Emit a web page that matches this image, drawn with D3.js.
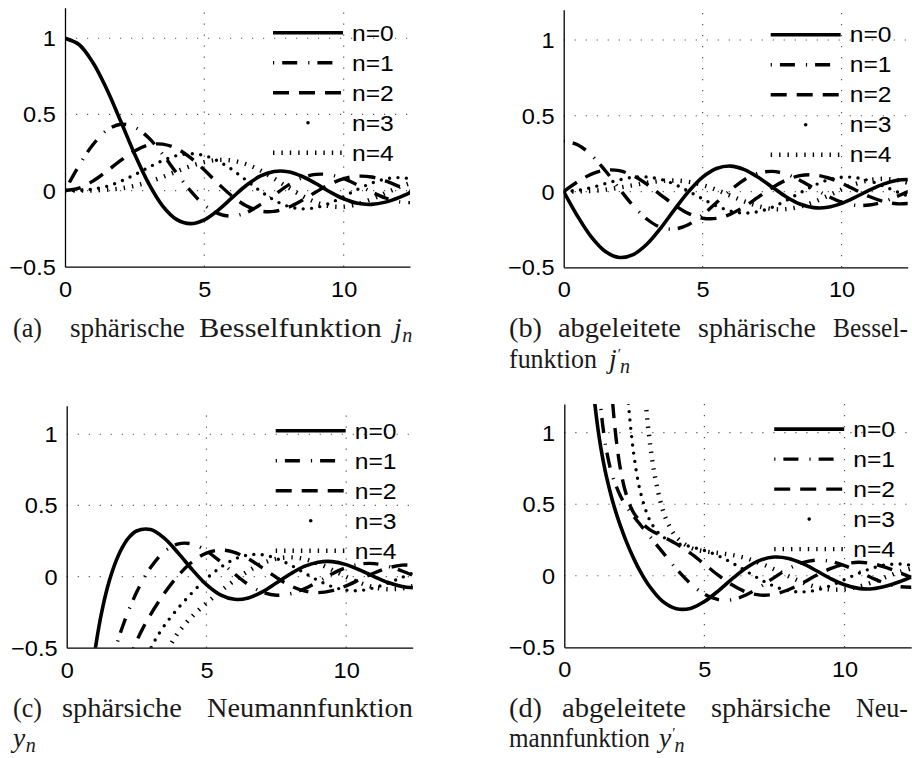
<!DOCTYPE html>
<html>
<head>
<meta charset="utf-8">
<script src="https://cdn.jsdelivr.net/npm/d3@7"></script>
<style>
  body { margin: 0; background: #fff; }
</style>
</head>
<body>
<div id="my_dataviz"></div>
<script>
// sample positions for panels (a) and (b)
const xGrid = [0, 0.5, 1, 1.5, 2, 2.5, 3, 3.5, 4, 4.5, 5, 5.5, 6, 6.5, 7, 7.5, 8, 8.5, 9, 9.5, 10, 10.5, 11, 11.5, 12, 12.5];

// (a) spherical Bessel functions j_n
const j0 = [1, 0.959, 0.841, 0.665, 0.455, 0.239, 0.047, -0.100, -0.189, -0.217, -0.192, -0.128, -0.047, 0.033, 0.094, 0.125, 0.124, 0.094, 0.046, -0.008, -0.054, -0.084, -0.091, -0.076, -0.045, -0.005];
const j1 = [0, 0.163, 0.301, 0.396, 0.435, 0.416, 0.346, 0.239, 0.116, -0.001, -0.095, -0.152, -0.168, -0.145, -0.094, -0.030, 0.034, 0.082, 0.106, 0.104, 0.078, 0.037, -0.009, -0.049, -0.074, -0.080];
const j2 = [0, 0.016, 0.062, 0.127, 0.198, 0.260, 0.299, 0.305, 0.276, 0.216, 0.135, 0.045, -0.037, -0.100, -0.134, -0.137, -0.111, -0.065, -0.010, 0.041, 0.078, 0.094, 0.089, 0.063, 0.026, -0.014];
const j3 = [0, 0.001, 0.009, 0.028, 0.061, 0.104, 0.152, 0.197, 0.229, 0.242, 0.230, 0.193, 0.137, 0.068, -0.002, -0.062, -0.103, -0.120, -0.112, -0.083, -0.039, 0.008, 0.049, 0.076, 0.085, 0.075];
const j4 = [0, 0.000, 0.001, 0.005, 0.014, 0.031, 0.056, 0.089, 0.125, 0.160, 0.187, 0.201, 0.197, 0.173, 0.133, 0.079, 0.021, -0.034, -0.077, -0.102, -0.106, -0.089, -0.057, -0.017, 0.023, 0.056];

// (b) derivatives j_n'
const dj0 = [0, -0.163, -0.301, -0.396, -0.435, -0.416, -0.346, -0.239, -0.116, 0.001, 0.095, 0.152, 0.168, 0.145, 0.094, 0.030, -0.034, -0.082, -0.106, -0.104, -0.078, -0.037, 0.009, 0.049, 0.074, 0.080];
const dj1 = [0.333, 0.309, 0.239, 0.137, 0.019, -0.094, -0.183, -0.237, -0.247, -0.217, -0.154, -0.073, 0.009, 0.078, 0.121, 0.133, 0.115, 0.075, 0.022, -0.030, -0.070, -0.091, -0.089, -0.068, -0.032, 0.008];
const dj2 = [0, 0.064, 0.115, 0.141, 0.138, 0.104, 0.047, -0.023, -0.091, -0.146, -0.176, -0.177, -0.149, -0.099, -0.037, 0.025, 0.075, 0.105, 0.110, 0.091, 0.055, 0.010, -0.033, -0.065, -0.081, -0.077];
const dj3 = [0, 0.007, 0.026, 0.052, 0.077, 0.094, 0.096, 0.080, 0.047, 0.001, -0.049, -0.095, -0.128, -0.142, -0.133, -0.104, -0.060, -0.009, 0.039, 0.076, 0.094, 0.092, 0.071, 0.037, -0.002, -0.038];
const dj4 = [0, 0.001, 0.004, 0.012, 0.026, 0.042, 0.058, 0.070, 0.073, 0.064, 0.043, 0.011, -0.027, -0.065, -0.096, -0.115, -0.116, -0.100, -0.069, -0.029, 0.013, 0.050, 0.075, 0.084, 0.075, 0.052];

// (c) spherical Neumann functions y_n as [x, value] (they start far below the plot)
const ny0 = [[0.9, -0.691], [1, -0.540], [1.1, -0.412], [1.2, -0.302], [1.3, -0.206], [1.4, -0.121], [1.5, -0.047], [1.6, 0.018], [1.8, 0.126], [2, 0.208], [2.2, 0.268], [2.5, 0.320], [3, 0.330], [3.5, 0.268], [4, 0.163], [4.5, 0.047], [5, -0.057], [5.5, -0.129], [6, -0.160], [6.5, -0.150], [7, -0.108], [7.5, -0.046], [8, 0.018], [8.5, 0.071], [9, 0.101], [9.5, 0.105], [10, 0.084], [10.5, 0.045], [11, 0.000], [11.5, -0.042], [12, -0.070], [12.5, -0.080]];
const ny1 = [[1.5, -0.696], [1.7, -0.539], [1.8, -0.471], [1.9, -0.408], [2, -0.351], [2.2, -0.246], [2.5, -0.111], [2.7, -0.034], [3, 0.063], [3.5, 0.177], [4, 0.230], [4.5, 0.228], [5, 0.180], [5.5, 0.105], [6, 0.020], [6.5, -0.056], [7, -0.109], [7.5, -0.131], [8, -0.121], [8.5, -0.086], [9, -0.035], [9.5, 0.019], [10, 0.063], [10.5, 0.088], [11, 0.091], [11.5, 0.072], [12, 0.039], [12.5, -0.001]];
const ny2 = [[2.2, -0.603], [2.3, -0.548], [2.4, -0.499], [2.5, -0.454], [2.7, -0.373], [3, -0.267], [3.5, -0.116], [4, 0.009], [4.5, 0.105], [5, 0.165], [5.5, 0.186], [6, 0.170], [6.5, 0.124], [7, 0.061], [7.5, -0.006], [8, -0.064], [8.5, -0.101], [9, -0.113], [9.5, -0.099], [10, -0.065], [10.5, -0.020], [11, 0.025], [11.5, 0.061], [12, 0.080], [12.5, 0.080]];
const ny3 = [[2.9, -0.551], [3, -0.508], [3.2, -0.434], [3.5, -0.343], [4, -0.219], [4.5, -0.111], [5, -0.015], [5.5, 0.064], [6, 0.122], [6.5, 0.152], [7, 0.153], [7.5, 0.127], [8, 0.082], [8.5, 0.026], [9, -0.028], [9.5, -0.071], [10, -0.095], [10.5, -0.098], [11, -0.079], [11.5, -0.046], [12, -0.006], [12.5, 0.033]];
const ny4 = [[3.5, -0.569], [3.6, -0.525], [3.7, -0.486], [4, -0.392], [4.5, -0.278], [5, -0.187], [5.5, -0.104], [6, -0.028], [6.5, 0.039], [7, 0.092], [7.5, 0.125], [8, 0.135], [8.5, 0.123], [9, 0.091], [9.5, 0.047], [10, -0.002], [10.5, -0.045], [11, -0.076], [11.5, -0.089], [12, -0.083], [12.5, -0.061]];

// (d) derivatives y_n' (they come down from above the plot)
const dny0 = [[1, 1.382], [1.1, 1.185], [1.2, 1.028], [1.3, 0.899], [1.4, 0.791], [1.5, 0.696], [1.7, 0.539], [1.8, 0.471], [1.9, 0.408], [2, 0.351], [2.2, 0.246], [2.5, 0.111], [2.7, 0.034], [3, -0.063], [3.5, -0.177], [4, -0.230], [4.5, -0.228], [5, -0.180], [5.5, -0.105], [6, -0.020], [6.5, 0.056], [7, 0.109], [7.5, 0.131], [8, 0.121], [8.5, 0.086], [9, 0.035], [9.5, -0.019], [10, -0.063], [10.5, -0.088], [11, -0.091], [11.5, -0.072], [12, -0.039], [12.5, 0.001]];
const dny1 = [[1.2, 1.412], [1.3, 1.178], [1.4, 1.008], [1.5, 0.881], [1.7, 0.710], [2, 0.559], [2.2, 0.491], [2.5, 0.409], [3, 0.288], [3.5, 0.167], [4, 0.048], [4.5, -0.054], [5, -0.129], [5.5, -0.167], [6, -0.167], [6.5, -0.133], [7, -0.076], [7.5, -0.011], [8, 0.049], [8.5, 0.091], [9, 0.109], [9.5, 0.101], [10, 0.071], [10.5, 0.029], [11, -0.017], [11.5, -0.055], [12, -0.077], [12.5, -0.080]];
const dny2 = [[1.6, 1.577], [1.7, 1.273], [1.8, 1.048], [1.9, 0.879], [2, 0.750], [2.2, 0.576], [2.5, 0.433], [3, 0.330], [3.5, 0.276], [4, 0.223], [4.5, 0.158], [5, 0.081], [5.5, 0.003], [6, -0.065], [6.5, -0.114], [7, -0.135], [7.5, -0.129], [8, -0.098], [8.5, -0.050], [9, 0.003], [9.5, 0.050], [10, 0.082], [10.5, 0.094], [11, 0.084], [11.5, 0.057], [12, 0.019], [12.5, -0.020]];
const dny3 = [[2.2, 1.441], [2.3, 1.180], [2.4, 0.978], [2.5, 0.821], [2.7, 0.599], [3, 0.410], [3.2, 0.339], [3.5, 0.275], [4, 0.228], [4.5, 0.204], [5, 0.177], [5.5, 0.139], [6, 0.089], [6.5, 0.031], [7, -0.026], [7.5, -0.074], [8, -0.105], [8.5, -0.113], [9, -0.100], [9.5, -0.069], [10, -0.027], [10.5, 0.017], [11, 0.054], [11.5, 0.077], [12, 0.082], [12.5, 0.069]];
const dny4 = [[2.7, 1.804], [2.9, 1.225], [3, 1.023], [3.2, 0.731], [3.5, 0.470], [3.7, 0.367], [4, 0.271], [4.5, 0.197], [5, 0.171], [5.5, 0.159], [6, 0.145], [6.5, 0.122], [7, 0.087], [7.5, 0.044], [8, -0.003], [8.5, -0.046], [9, -0.079], [9.5, -0.096], [10, -0.094], [10.5, -0.076], [11, -0.045], [11.5, -0.007], [12, 0.029], [12.5, 0.057]];

const legendLabels = ["n=0", "n=1", "n=2", "n=3", "n=4"];
const xTicks = [0, 5, 10];
const yTicks = [-0.5, 0, 0.5, 1];
const xDomain = [0, 12.38];
const yDomain = [-0.5, 1.2];

// caption words: [text, left, right, baseline]
const captionWords = [
  ["(a)", 13, 42, 336.7], ["sphärische", 70, 185, 336.7], ["Besselfunktion", 199, 382, 336.7],
  ["(b)", 509, 542, 336.7], ["abgeleitete", 558, 681, 336.7], ["sphärische", 698, 816, 336.7], ["Bessel-", 833, 908, 336.7],
  ["funktion", 509, 597, 367.8],
  ["(c)", 13, 42, 716.7], ["sphärsiche", 62, 182, 716.7], ["Neumannfunktion", 207, 413, 716.7],
  ["(d)", 509, 542, 716.7], ["abgeleitete", 562, 686, 716.7], ["sphärsiche", 711, 831, 716.7], ["Neu-", 856, 908, 716.7],
  ["mannfunktion", 509, 650, 746.7]
];
// math symbols: [letter, primed, left, baseline]
const captionMath = [["j", false, 394, 336.7], ["j", true, 609, 367.8], ["y", false, 13, 746.7], ["y", true, 659, 746.7]];

// line style for n = 0..4
const lineStyles = [
  { width: 3.6, dash: null, cap: "butt" },
  { width: 3.4, dash: "1.2 8 15 11", cap: "butt" },
  { width: 3.4, dash: "16 10", cap: "butt" },
  { width: 3.4, dash: "0 8.4", cap: "round" },
  { width: 4.4, dash: "1.4 7", cap: "butt" }
];

function toPairs(arr) {
  return xGrid.map(function (x, i) { return [x, arr[i]]; });
}

const panels = [
  { name: "a", left: 65, right: 410, top: 7.8, bottom: 266.7, series: [j0, j1, j2, j3, j4].map(toPairs) },
  { name: "b", left: 563.7, right: 907.7, top: 9.7, bottom: 267.3, series: [dj0, dj1, dj2, dj3, dj4].map(toPairs) },
  { name: "c", left: 66.7, right: 412.7, top: 405.8, bottom: 647.7, series: [ny0, ny1, ny2, ny3, ny4] },
  { name: "d", left: 564.3, right: 911.2, top: 404.1, bottom: 647.3, series: [dny0, dny1, dny2, dny3, dny4] }
];

var svg = d3.select("#my_dataviz")
  .append("svg")
  .attr("width", 912)
  .attr("height", 758)
  .style("display", "block");

var defs = svg.append("defs");

panels.forEach(drawPanel);
drawCaptions();

function styleLine(sel, st) {
  sel.attr("fill", "none")
    .attr("stroke", "#000")
    .attr("stroke-width", st.width)
    .attr("stroke-linecap", st.cap)
    .attr("stroke-dasharray", st.dash);
}

function drawPanel(p) {
  var x = d3.scaleLinear().domain(xDomain).range([p.left, p.right]);
  var y = d3.scaleLinear().domain(yDomain).range([p.bottom, p.top]);

  defs.append("clipPath")
    .attr("id", "clip-" + p.name)
    .append("rect")
    .attr("x", p.left)
    .attr("y", p.top)
    .attr("width", p.right - p.left)
    .attr("height", p.bottom - p.top);

  var g = svg.append("g");

  // dotted grid
  g.selectAll("vgrid")
    .data(xTicks.filter(function (d) { return d > xDomain[0]; }))
    .enter()
    .append("line")
    .attr("x1", function (d) { return x(d); })
    .attr("x2", function (d) { return x(d); })
    .attr("y1", y(yDomain[0]))
    .attr("y2", y(yDomain[1]))
    .attr("stroke", "#555")
    .attr("stroke-width", 1.2)
    .attr("stroke-dasharray", "1.2 9.8");

  g.selectAll("hgrid")
    .data(yTicks.filter(function (d) { return d > yDomain[0]; }))
    .enter()
    .append("line")
    .attr("x1", x(xDomain[0]))
    .attr("x2", x(xDomain[1]))
    .attr("y1", function (d) { return y(d); })
    .attr("y2", function (d) { return y(d); })
    .attr("stroke", "#555")
    .attr("stroke-width", 1.2)
    .attr("stroke-dasharray", "1.2 9.8");

  // curves
  var line = d3.line()
    .x(function (d) { return x(d[0]); })
    .y(function (d) { return y(d[1]); })
    .curve(d3.curveCatmullRom.alpha(0.5));

  var curves = g.append("g").attr("clip-path", "url(#clip-" + p.name + ")");
  p.series.forEach(function (s, i) {
    curves.append("path")
      .attr("d", line(s))
      .call(styleLine, lineStyles[i]);
  });

  // axes
  var xAxis = g.append("g")
    .attr("transform", "translate(0," + p.bottom + ")")
    .call(d3.axisBottom(x).tickValues(xTicks).tickFormat(d3.format("d")).tickSize(0).tickPadding(14.4));
  var yAxis = g.append("g")
    .attr("transform", "translate(" + p.left + ",0)")
    .call(d3.axisLeft(y).tickValues(yTicks).tickFormat(d3.format("~g")).tickSize(0));

  [xAxis, yAxis].forEach(function (ax) {
    ax.select(".domain").attr("stroke", "#000").attr("stroke-width", 1.3);
    ax.selectAll("text")
      .attr("font-family", "'Liberation Sans', Arial, sans-serif")
      .attr("font-size", 22)
      .attr("fill", "#000")
      .attr("transform", "scale(1.07,1)");
  });
  yAxis.selectAll("text").attr("x", -8.6).attr("dy", "0.34em");

  // legend in the top right corner
  var lx1 = p.right - 137, lx2 = p.right - 67, tx = p.right - 58;
  legendLabels.forEach(function (label, i) {
    var ry = p.top + 25 + 30 * i;
    if (lineStyles[i].cap === "round") {
      g.append("circle")
        .attr("cx", (lx1 + lx2) / 2)
        .attr("cy", ry)
        .attr("r", 1.8)
        .attr("fill", "#000");
    } else {
      g.append("line")
        .attr("x1", lx1).attr("x2", lx2)
        .attr("y1", ry).attr("y2", ry)
        .call(styleLine, lineStyles[i]);
    }
    g.append("text")
      .attr("transform", "translate(" + tx + "," + (ry + 7.7) + ") scale(1.12,1)")
      .attr("font-family", "'Liberation Sans', Arial, sans-serif")
      .attr("font-size", 22)
      .text(label);
  });
}

function drawCaptions() {
  var serif = "'Liberation Serif', 'Times New Roman', serif";
  // each word is squeezed or stretched to the width it has in the figure
  svg.selectAll("capWord")
    .data(captionWords)
    .enter()
    .append("text")
    .attr("font-family", serif)
    .attr("font-size", 27.5)
    .attr("fill", "#1a1a1a")
    .text(function (d) { return d[0]; })
    .attr("transform", function (d) {
      var w = this.getComputedTextLength();
      return "translate(" + d[1] + "," + d[3] + ") scale(" + ((d[2] - d[1]) / w) + ",1)";
    });

  // j_n, j'_n, y_n, y'_n as one text each
  captionMath.forEach(function (m) {
    var t = svg.append("text")
      .attr("x", m[2])
      .attr("y", m[3])
      .attr("font-family", serif)
      .attr("font-style", "italic")
      .attr("font-size", 27.5)
      .attr("fill", "#1a1a1a");
    t.append("tspan").text(m[0]);
    if (m[1]) {
      t.append("tspan")
        .attr("font-style", "normal")
        .attr("font-size", 15)
        .attr("dx", 1)
        .attr("dy", -9)
        .text("′");
      t.append("tspan")
        .attr("font-size", 20)
        .attr("dx", -1)
        .attr("dy", 14)
        .text("n");
    } else {
      t.append("tspan")
        .attr("font-size", 20)
        .attr("dx", 0.5)
        .attr("dy", 5)
        .text("n");
    }
  });
}
</script>
</body>
</html>
